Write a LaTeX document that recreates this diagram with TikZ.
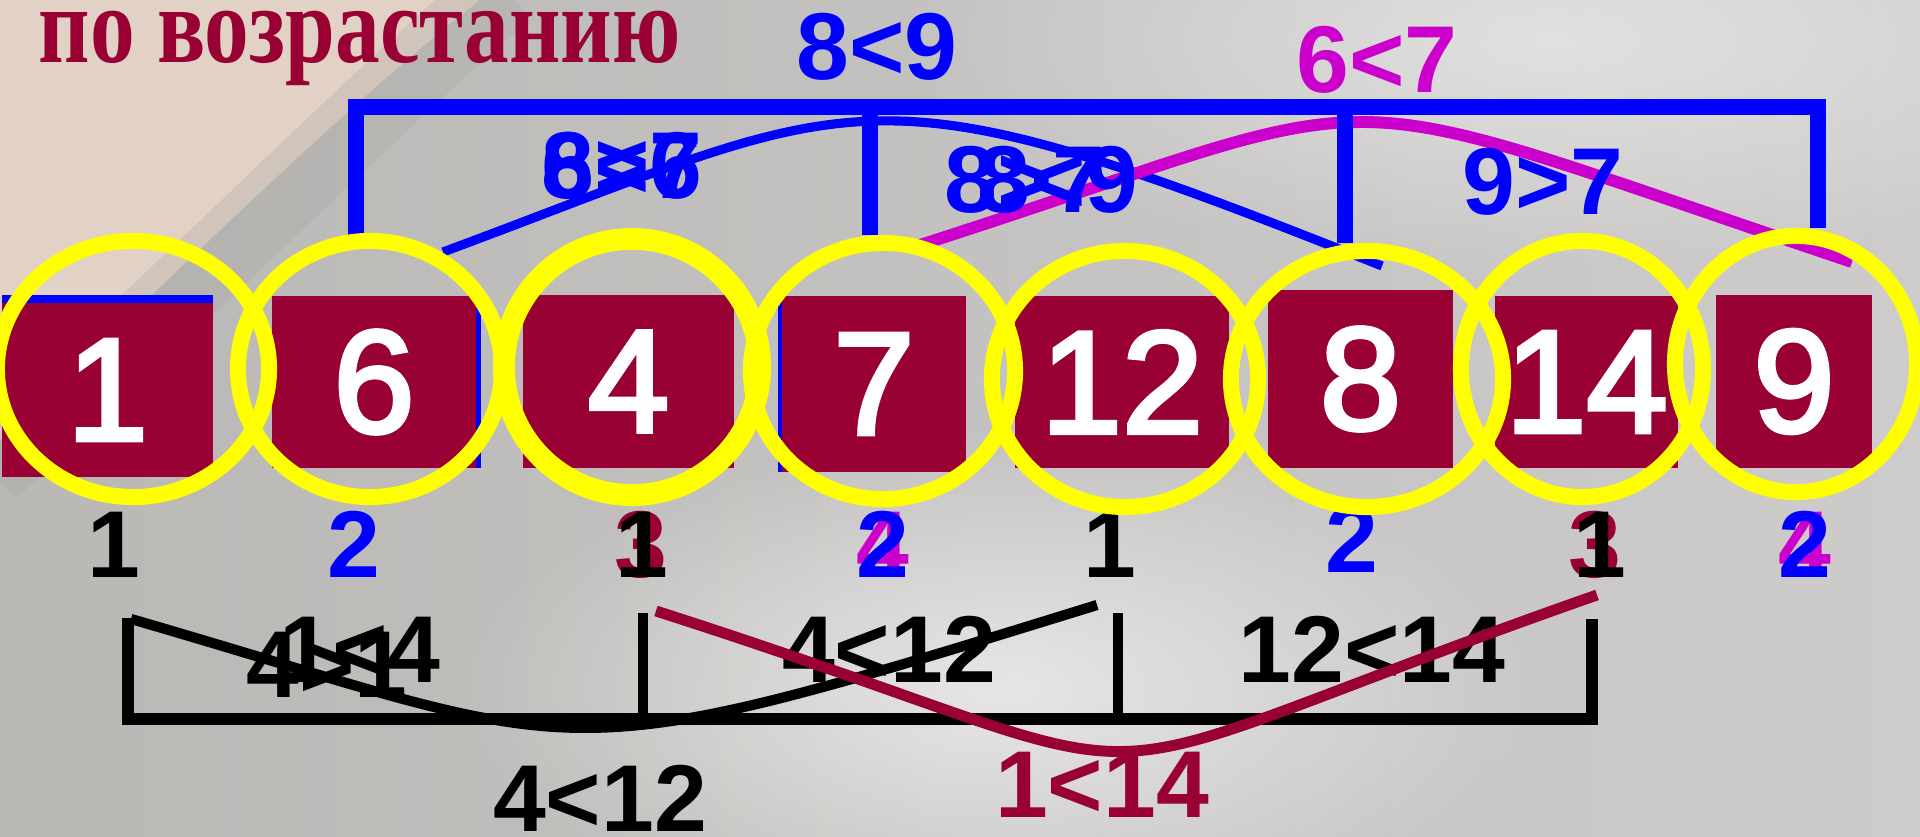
\documentclass[tikz,border=0pt]{standalone}
\usepackage{fontspec}
\usepackage{graphicx}
\setmainfont{Liberation Sans}
\newfontfamily\titlefont{Liberation Serif}
\newfontface\cellfont{Liberation Sans}[FakeBold=3]
\usetikzlibrary{shapes.geometric, fadings}

\definecolor{slidered}{HTML}{990033}
\definecolor{cmpblue}{HTML}{0000FF}
\definecolor{cmppink}{HTML}{CC00CC}
\definecolor{ringyellow}{HTML}{FFFF00}
\definecolor{bgleft}{HTML}{BAB8B5}
\definecolor{bgmid}{HTML}{DED9D5}
\definecolor{bgright}{HTML}{CDCCCB}
\definecolor{bgpeach}{HTML}{E2D2C6}
\definecolor{bgdark}{HTML}{A8A6A3}

\tikzfading[name=softspot, inner color=transparent!0, outer color=transparent!100]

\begin{document}
\begin{tikzpicture}[x=0.01cm, y=-0.01cm,
  cell/.style={fill=slidered, text=white, inner sep=0pt,
               font=\cellfont\fontsize{41.5}{42}\selectfont},
  ring/.style={ellipse, draw=ringyellow, line width=4.55pt, inner sep=0pt,
               minimum height=2.56cm},
  cmp/.style={anchor=base, inner sep=0pt, font=\bfseries\fontsize{27}{27}\selectfont},
  rank/.style={anchor=base, inner sep=0pt, font=\bfseries\fontsize{27}{27}\selectfont}
]
  \useasboundingbox (0,0) rectangle (1920,837);

  % Background
  \shade[left color=bgleft, middle color=bgmid, right color=bgright] (0,0) rectangle (1920,837);
  \fill[bgpeach] (0,0) -- (480,0) .. controls (340,110) and (190,260) .. (0,440) -- cycle;
  \draw[bgdark, line width=22pt, opacity=0.3] (505,-10) .. controls (360,115) and (205,275) .. (-10,470);
  \fill[white, opacity=0.6, path fading=softspot] (1000,690) ellipse (540 and 260);
  \fill[white, opacity=0.45, path fading=softspot] (1550,40) ellipse (650 and 230);

  % Title
  \node[anchor=base west, inner sep=0pt, text=slidered,
        font=\titlefont\bfseries\fontsize{31}{31}\selectfont] (title) at (38,63)
        {\scalebox{0.82}[1]{по возрастанию}};

  % Curve ends
  \coordinate (bs) at (443,252);
  \coordinate (be) at (1382,266);
  \coordinate (ms) at (917,246);
  \coordinate (me) at (1852,262);
  \coordinate (ks) at (131,619);
  \coordinate (ke) at (1097,605);
  \coordinate (rs) at (656,611);
  \coordinate (re) at (1597,595);

  % Upper comparisons
  \draw[cmpblue, line width=2.6pt] (bs) .. controls (869,94) and (856,56) .. (be);
  \draw[cmppink, line width=3.4pt] (ms) .. controls (1425,83) and (1289,73) .. (me);
  \draw[cmpblue, line width=4.55pt] (356,235) -- (356,107) -- (1818,107) -- (1818,228);
  \draw[cmpblue, line width=4.3pt] (870,107) -- (870,235);
  \draw[cmpblue, line width=4.3pt] (1345,107) -- (1345,243);

  \node[cmp, cmpblue] (top) at (877,80) {8<9};
  \node[cmp, cmppink] (toppink) at (1377,93) {6<7};
  \node[cmp, cmpblue] (ua) at (622,199) {6<7};
  \node[cmp, cmpblue] (ub) at (622,199) {8>6};
  \node[cmp, cmpblue] (uc) at (1025,213) {8>7};
  \node[cmp, cmpblue] (ud) at (1058,213) {8<9};
  \node[cmp, cmpblue] (ue) at (1543,215) {9>7};

  % Cells
  \fill[cmpblue] (2,295) rectangle (213,304);
  \fill[cmpblue] (474,296) rectangle (481,468);
  \fill[cmpblue] (778,300) rectangle (783,472);
  \node[cell, minimum width=2.11cm, minimum height=1.74cm] (c1) at (107.5,390) {1};
  \node[cell, minimum width=2.04cm, minimum height=1.72cm] (c2) at (374,382) {6};
  \node[cell, minimum width=2.11cm, minimum height=1.73cm] (c3) at (628.5,381.5) {4};
  \node[cell, minimum width=1.84cm, minimum height=1.76cm] (c4) at (874,384) {7};
  \node[cell, minimum width=2.14cm, minimum height=1.72cm] (c5) at (1122,382) {12};
  \node[cell, minimum width=1.85cm, minimum height=1.78cm] (c6) at (1360.5,379) {8};
  \node[cell, minimum width=1.83cm, minimum height=1.72cm] (c7) at (1586.5,382) {14};
  \node[cell, minimum width=1.56cm, minimum height=1.73cm] (c8) at (1794,381.5) {9};

  % Ranks
  \node[rank] (k1) at (114,578) {1};
  \node[rank, cmpblue] (k2) at (354,578) {2};
  \node[rank, slidered] (k3a) at (641,578) {3};
  \node[rank] (k3b) at (642,578) {1};
  \node[rank, cmppink] (k4a) at (883,578) {4};
  \node[rank, cmpblue] (k4b) at (883,578) {2};
  \node[rank] (k5) at (1110,578) {1};
  \node[rank, cmpblue] (k6) at (1352,573) {2};
  \node[rank, slidered] (k7a) at (1595,578) {3};
  \node[rank] (k7b) at (1600,578) {1};
  \node[rank, cmppink] (k8a) at (1805,578) {4};
  \node[rank, cmpblue] (k8b) at (1805,578) {2};

  % Lower comparisons
  \draw[black, line width=3.4pt] (128,618) -- (128,719) -- (1592,719) -- (1592,619);
  \draw[black, line width=2.8pt] (643,719) -- (643,613);
  \draw[black, line width=2.8pt] (1118,719) -- (1118,613);
  \draw[black, line width=2.9pt] (ks) .. controls (600,755) and (538,778) .. (ke);

  \node[cmp] (la) at (360,683) {1<4};
  \node[cmp] (lb) at (327,698) {4>1};
  \node[cmp] (lc) at (889,683) {4<12};
  \node[cmp] (ld) at (1372,683) {12<14};
  \node[cmp] (bottom) at (600,832) {4<12};

  \draw[slidered, line width=3.1pt] (rs) .. controls (1240,798) and (1001,804) .. (re);
  \node[cmp, slidered] (bottomred) at (1102,818) {1<14};

  % Rings
  \node[ring, minimum width=2.72cm] (r1) at (133,369) {};
  \node[ring, minimum width=2.64cm] (r2) at (370,369) {};
  \node[ring, minimum width=2.56cm, line width=6.2pt] (r3) at (632,367) {};
  \node[ring, minimum width=2.64cm] (r4) at (883,371) {};
  \node[ring, minimum width=2.66cm] (r5) at (1125,379) {};
  \node[ring, minimum width=2.72cm] (r6) at (1367,379) {};
  \node[ring, minimum width=2.42cm] (r7) at (1582,369) {};
  \node[ring, minimum width=2.42cm] (r8) at (1796,364) {};
\end{tikzpicture}
\end{document}
